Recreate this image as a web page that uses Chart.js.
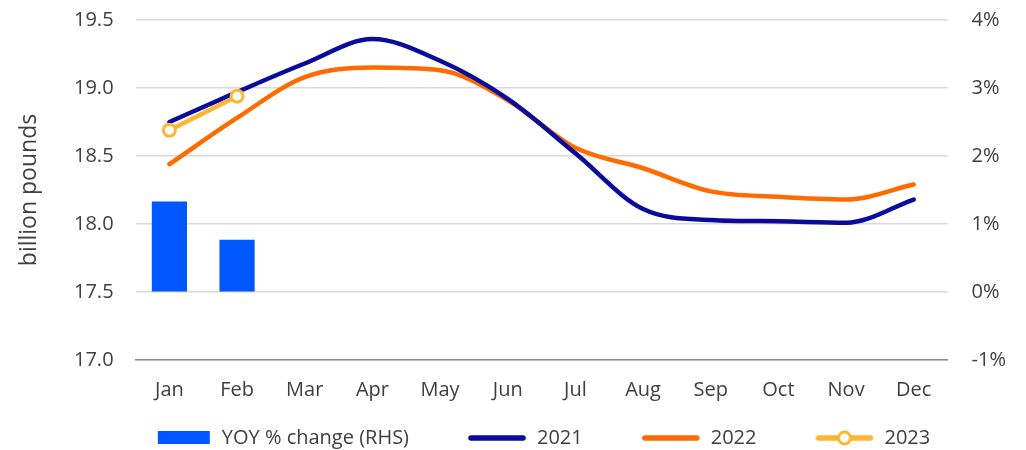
<!DOCTYPE html>
<html lang="en">
<head>
    <meta charset="UTF-8">
    <title>Monthly billion pounds</title>
    <script src="https://cdn.jsdelivr.net/npm/chart.js"></script>
    <style>
        body {
            margin: 0;
            background: #fff;
        }
        .wrap {
            width: 1026px;
            height: 450px;
        }
    </style>
</head>
<body>
<div class="wrap">
    <canvas id="chart" width="1026" height="450"></canvas>
</div>

<script>
    const months = ['Jan', 'Feb', 'Mar', 'Apr', 'May', 'Jun', 'Jul', 'Aug', 'Sep', 'Oct', 'Nov', 'Dec'];
    const yoyChange = [1.33, 0.77, null, null, null, null, null, null, null, null, null, null];
    const values2021 = [18.75, 18.97, 19.18, 19.36, 19.2, 18.92, 18.52, 18.11, 18.03, 18.02, 18.01, 18.18];
    const values2022 = [18.44, 18.78, 19.08, 19.15, 19.13, 18.91, 18.56, 18.41, 18.24, 18.2, 18.18, 18.29];
    const values2023 = [18.69, 18.94, null, null, null, null, null, null, null, null, null, null];
    const leftTicks = [17.0, 17.5, 18.0, 18.5, 19.0, 19.5];
    const rightTicks = [-1, 0, 1, 2, 3, 4];

    const fontFamily = '"Open Sans", "Noto Sans", sans-serif';
    const textColor = '#404040';
    const clear = 'rgba(0,0,0,0)';

    // legend markers: content sits at the right side of a fixed-width canvas
    const markerW = 110;
    function makeMarker(kind, color) {
        const c = document.createElement('canvas');
        c.width = markerW;
        c.height = 18;
        const g = c.getContext('2d');
        if (kind === 'box') {
            g.fillStyle = color;
            g.fillRect(markerW - 54, 2, 52, 13);
        } else {
            g.strokeStyle = color;
            g.lineWidth = 5.5;
            g.lineCap = 'round';
            g.beginPath();
            g.moveTo(markerW - 56, 9);
            g.lineTo(markerW - 4, 9);
            g.stroke();
            if (kind === 'dot') {
                g.fillStyle = '#fff';
                g.lineWidth = 3;
                g.beginPath();
                g.arc(markerW - 30, 9, 6, 0, Math.PI * 2);
                g.fill();
                g.stroke();
            }
        }
        return c;
    }

    const legendItems = [
        {text: 'YOY % change (RHS)', pointStyle: makeMarker('box', '#0057ff'), datasetIndex: 0},
        {text: '2021', pointStyle: makeMarker('line', '#0a0a9c'), datasetIndex: 1},
        {text: '2022', pointStyle: makeMarker('line', '#ff6b00'), datasetIndex: 2},
        {text: '2023', pointStyle: makeMarker('dot', '#ffb531'), datasetIndex: 3}
    ];

    new Chart(document.getElementById('chart'), {
        data: {
            labels: months,
            datasets: [{
                type: 'bar',
                label: 'YOY % change (RHS)',
                data: yoyChange,
                yAxisID: 'y1',
                backgroundColor: '#0057ff',
                barPercentage: 0.52,
                categoryPercentage: 1,
                order: 4
            }, {
                type: 'line',
                label: '2021',
                data: values2021,
                yAxisID: 'y',
                borderColor: '#0a0a9c',
                borderWidth: 4.5,
                borderCapStyle: 'round',
                pointRadius: 0,
                cubicInterpolationMode: 'monotone',
                order: 2
            }, {
                type: 'line',
                label: '2022',
                data: values2022,
                yAxisID: 'y',
                borderColor: '#ff6b00',
                borderWidth: 4.5,
                borderCapStyle: 'round',
                pointRadius: 0,
                cubicInterpolationMode: 'monotone',
                order: 3
            }, {
                type: 'line',
                label: '2023',
                data: values2023,
                yAxisID: 'y',
                borderColor: '#ffb531',
                borderWidth: 4.5,
                borderCapStyle: 'round',
                pointRadius: 6,
                pointBorderWidth: 3,
                pointBackgroundColor: '#fff',
                pointBorderColor: '#ffb531',
                order: 1
            }]
        },
        options: {
            responsive: false,
            animation: false,
            layout: {
                padding: {left: 18, right: 12, top: 0, bottom: 0}
            },
            plugins: {
                tooltip: {enabled: false},
                legend: {
                    position: 'bottom',
                    maxHeight: 30,
                    labels: {
                        usePointStyle: true,
                        pointStyleWidth: markerW,
                        padding: 8,
                        color: textColor,
                        font: {family: fontFamily, size: 20},
                        generateLabels: () => legendItems.map(it => ({
                            text: it.text,
                            pointStyle: it.pointStyle,
                            datasetIndex: it.datasetIndex,
                            fontColor: textColor,
                            hidden: false,
                            lineWidth: 0
                        }))
                    }
                }
            },
            scales: {
                x: {
                    grid: {display: false, drawTicks: false},
                    border: {display: true, color: '#8c8c8c', width: 1.5},
                    ticks: {
                        color: textColor,
                        padding: 18,
                        font: {family: fontFamily, size: 20}
                    }
                },
                y: {
                    position: 'left',
                    min: 17,
                    max: 19.5,
                    afterBuildTicks: axis => {
                        axis.ticks = leftTicks.map(v => ({value: v}));
                    },
                    grid: {color: '#d9d9d9', lineWidth: 1.5, drawTicks: true, tickLength: 14, tickColor: clear},
                    border: {display: false},
                    ticks: {
                        color: textColor,
                        padding: 8,
                        font: {family: fontFamily, size: 20},
                        callback: v => Number(v).toFixed(1)
                    },
                    title: {
                        display: true,
                        text: 'billion pounds',
                        color: textColor,
                        padding: {top: 0, bottom: 25},
                        font: {family: fontFamily, size: 23, lineHeight: 1}
                    }
                },
                y1: {
                    position: 'right',
                    min: -1,
                    max: 4,
                    afterBuildTicks: axis => {
                        axis.ticks = rightTicks.map(v => ({value: v}));
                    },
                    grid: {display: true, drawOnChartArea: false, drawTicks: true, tickLength: 16, tickColor: clear},
                    border: {display: false},
                    ticks: {
                        color: textColor,
                        padding: 8,
                        font: {family: fontFamily, size: 20},
                        callback: v => v + '%'
                    }
                }
            }
        }
    });
</script>
</body>
</html>
